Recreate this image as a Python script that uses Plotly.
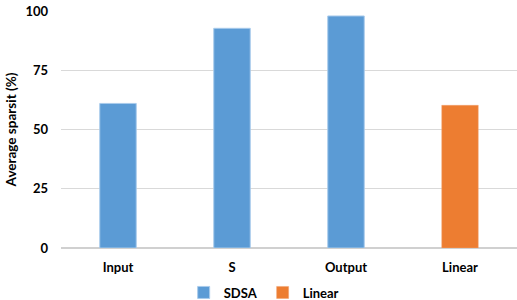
import plotly.graph_objects as go

categories = ["Input", "S", "Output", "Linear"]
sdsa_cats = ["Input", "S", "Output"]
sdsa_vals = [61.0, 92.7, 97.9]
linear_cats = ["Linear"]
linear_vals = [60.2]
y_ticks = [0, 25, 50, 75, 100]

FONT = "Lato"

fig = go.Figure()
fig.add_trace(go.Bar(
    x=sdsa_cats, y=sdsa_vals, name="SDSA", width=0.32,
    marker=dict(color="#5B9BD5", line=dict(color="#A9CBEB", width=1)),
))
fig.add_trace(go.Bar(
    x=linear_cats, y=linear_vals, name="Linear", width=0.32,
    marker=dict(color="#ED7D31", line=dict(color="#F0A070", width=0.5)),
))

fig.update_layout(
    width=517, height=300,
    margin=dict(l=61, r=0, t=11, b=52, autoexpand=False),
    barmode="overlay",
    plot_bgcolor="white", paper_bgcolor="white",
    font=dict(family=FONT, size=13, color="#000000"),
    showlegend=True,
    legend=dict(orientation="h", x=0.51, xref="container", xanchor="center",
                y=0.025, yref="container", yanchor="middle",
                font=dict(family=FONT, size=13, color="#000", weight="bold"),
                itemwidth=30, traceorder="normal", tracegroupgap=0,
                borderwidth=0),
    xaxis=dict(categoryorder="array", categoryarray=categories, automargin=False,
               tickfont=dict(family=FONT, size=13, color="#000", weight="bold"),
               showgrid=False, showline=False, ticks="", ticklabelstandoff=10),
    yaxis=dict(range=[0, 100], tickvals=y_ticks, automargin=False,
               tickfont=dict(family=FONT, size=13, color="#000", weight="bold"),
               showgrid=True, gridcolor="#D9D9D9", gridwidth=1,
               zeroline=True, zerolinecolor="#D0D0D0", zerolinewidth=1.5,
               ticks="", ticklabelstandoff=12,
               title=dict(text="Average sparsit (%)", standoff=5,
                          font=dict(family=FONT, size=13.5, color="#000", weight="bold"))),
)
fig.write_html("out.html", config={"displayModeBar": False},
               post_script="document.body.style.margin='0';")
